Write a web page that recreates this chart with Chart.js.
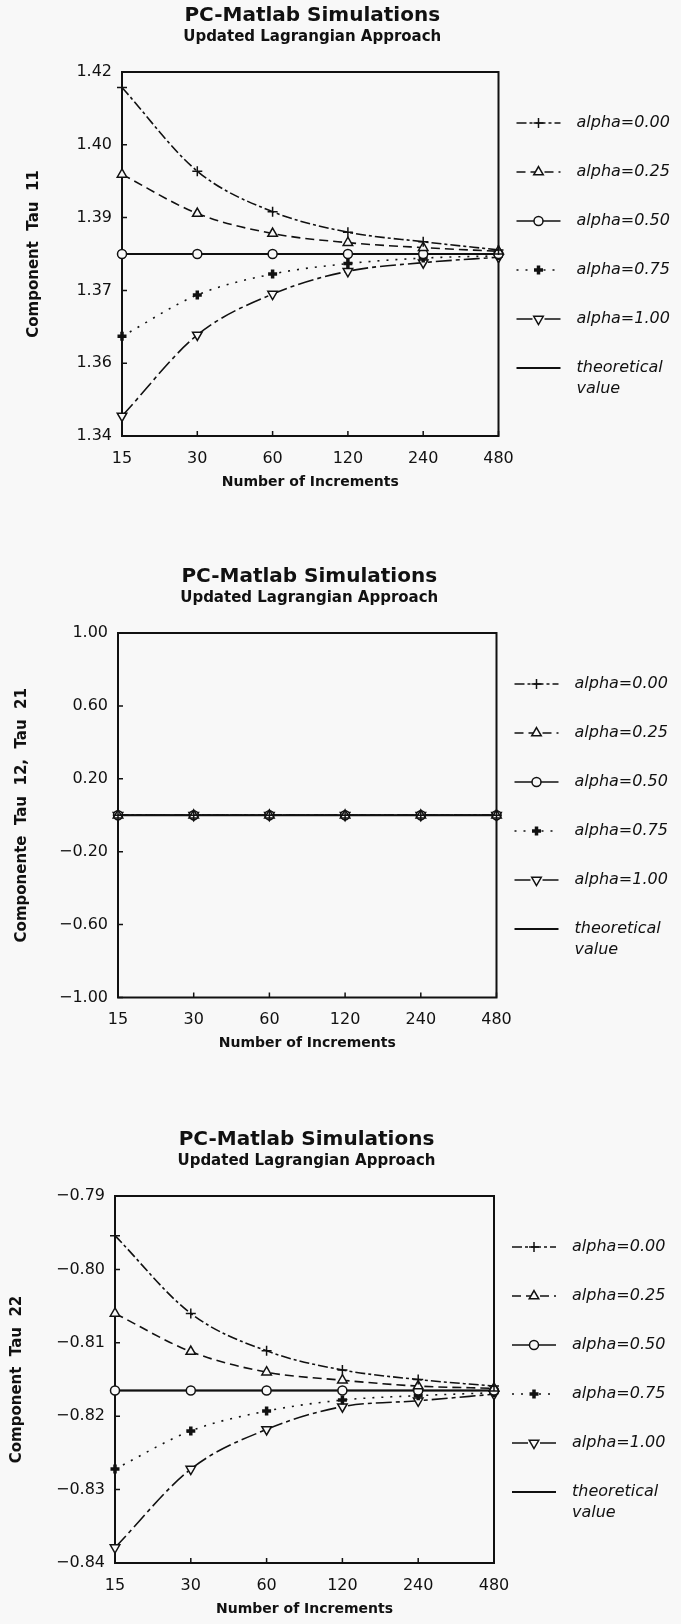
<!DOCTYPE html>
<html>
<head>
<meta charset="utf-8">
<script src="https://cdn.jsdelivr.net/npm/chart.js@4.4.0/dist/chart.umd.min.js"></script>
<style>
  html, body { margin: 0; padding: 0; background: #f8f8f8; }
  .panel { position: absolute; left: 0; }
  canvas { display: block; }
</style>
</head>
<body>
<div class="panel" style="top:0px"><canvas id="tau11" width="681" height="500"></canvas></div>
<div class="panel" style="top:500px"><canvas id="tau12" width="681" height="560"></canvas></div>
<div class="panel" style="top:1060px"><canvas id="tau22" width="681" height="564"></canvas></div>
<script>
// x categories (number of increments, plotted on equal spacing)
const increments = ['15', '30', '60', '120', '240', '480'];
const seriesNames = ['alpha=0.00', 'alpha=0.25', 'alpha=0.50', 'alpha=0.75', 'alpha=1.00'];
const theoryName = ['theoretical', 'value'];

// Component Tau 11
const tau11Alpha000 = [1.4166, 1.3982, 1.3893, 1.3848, 1.3827, 1.3809];
const tau11Alpha025 = [1.3975, 1.3889, 1.3845, 1.3825, 1.3814, 1.3806];
const tau11Alpha050 = [1.3800, 1.3800, 1.3800, 1.3800, 1.3800, 1.3800];
const tau11Alpha075 = [1.3619, 1.3710, 1.3756, 1.3779, 1.3791, 1.3796];
const tau11Alpha100 = [1.3444, 1.3622, 1.3712, 1.3762, 1.3781, 1.3793];
const tau11Theory = 1.38;
const tau11Ticks = [1.34, 1.356, 1.372, 1.388, 1.404, 1.42];
const tau11TickLabels = ['1.34', '1.36', '1.37', '1.39', '1.40', '1.42'];

// Components Tau 12, Tau 21
const tau12Alpha000 = [0, 0, 0, 0, 0, 0];
const tau12Alpha025 = [0, 0, 0, 0, 0, 0];
const tau12Alpha050 = [0, 0, 0, 0, 0, 0];
const tau12Alpha075 = [0, 0, 0, 0, 0, 0];
const tau12Alpha100 = [0, 0, 0, 0, 0, 0];
const tau12Theory = 0;
const tau12Ticks = [-1, -0.6, -0.2, 0.2, 0.6, 1];
const tau12TickLabels = ['\u22121.00', '\u22120.60', '\u22120.20', '0.20', '0.60', '1.00'];

// Component Tau 22
const tau22Alpha000 = [-0.7954, -0.8060, -0.8111, -0.8137, -0.8150, -0.8159];
const tau22Alpha025 = [-0.8060, -0.8112, -0.8140, -0.8151, -0.8159, -0.8162];
const tau22Alpha050 = [-0.8165, -0.8165, -0.8165, -0.8165, -0.8165, -0.8165];
const tau22Alpha075 = [-0.8272, -0.8220, -0.8193, -0.8178, -0.8172, -0.8168];
const tau22Alpha100 = [-0.8379, -0.8272, -0.8218, -0.8187, -0.8179, -0.8170];
const tau22Theory = -0.8165;
const tau22Ticks = [-0.84, -0.83, -0.82, -0.81, -0.80, -0.79];
const tau22TickLabels = ['\u22120.84', '\u22120.83', '\u22120.82', '\u22120.81', '\u22120.80', '\u22120.79'];

const INK = '#111';
const BG = '#f8f8f8';
const FONT = 'DejaVu Sans';

const lineStyles = [
  { borderDash: [10, 3, 3, 3], pointStyle: 'cross', pointRadius: 5, pointBorderWidth: 1.5, pointRotation: 0 },
  { borderDash: [9, 5], pointStyle: 'triangle', pointRadius: 5.5, pointBorderWidth: 1.5, pointRotation: 0 },
  { borderDash: [], pointStyle: 'circle', pointRadius: 4.5, pointBorderWidth: 1.5, pointRotation: 0 },
  { borderDash: [2, 7], pointStyle: 'cross', pointRadius: 4.5, pointBorderWidth: 3.5, pointRotation: 0 },
  { borderDash: [16, 4, 4, 4], pointStyle: 'triangle', pointRadius: 5.5, pointBorderWidth: 1.5, pointRotation: 180 }
];

function buildDatasets(series, theory) {
  const sets = series.map((values, i) => ({
    label: seriesNames[i],
    data: values,
    borderColor: INK,
    borderWidth: 1.6,
    borderDash: lineStyles[i].borderDash,
    pointStyle: lineStyles[i].pointStyle,
    pointRadius: lineStyles[i].pointRadius,
    pointBorderWidth: lineStyles[i].pointBorderWidth,
    pointRotation: lineStyles[i].pointRotation,
    pointBorderColor: INK,
    pointBackgroundColor: BG,
    cubicInterpolationMode: 'monotone',
    fill: false
  }));
  sets.push({
    label: theoryName.join(' '),
    legendLines: theoryName,
    data: increments.map(() => theory),
    borderColor: INK,
    borderWidth: 2,
    borderDash: [],
    pointRadius: 0,
    fill: false
  });
  return sets;
}

// titles above the box
const headings = {
  id: 'headings',
  afterDraw(chart) {
    const { ctx, chartArea: a } = chart;
    const cx = (a.left + a.right) / 2 + 2;
    ctx.save();
    ctx.fillStyle = INK;
    ctx.textAlign = 'center';
    ctx.textBaseline = 'middle';
    ctx.font = 'bold 20px "' + FONT + '"';
    ctx.fillText('PC-Matlab Simulations', cx, a.top - 56);
    ctx.font = 'bold 15px "' + FONT + '"';
    ctx.fillText('Updated Lagrangian Approach', cx, a.top - 35);
    ctx.restore();
  }
};

// closed box with inward tick marks
const frame = {
  id: 'frame',
  beforeDatasetsDraw(chart) {
    const { ctx, chartArea: a, scales } = chart;
    ctx.save();
    ctx.strokeStyle = INK;
    ctx.lineWidth = 2;
    ctx.strokeRect(a.left, a.top, a.width, a.height);
    ctx.lineWidth = 1.5;
    ctx.beginPath();
    scales.x.ticks.forEach((t, i) => {
      const px = scales.x.getPixelForTick(i);
      ctx.moveTo(px, a.bottom);
      ctx.lineTo(px, a.bottom - 5);
    });
    scales.y.ticks.forEach((t, i) => {
      const py = scales.y.getPixelForTick(i);
      ctx.moveTo(a.left, py);
      ctx.lineTo(a.left + 5, py);
    });
    ctx.stroke();
    ctx.restore();
  }
};

// legend on the right: line sample, marker, italic label
const sideLegend = {
  id: 'sideLegend',
  afterDraw(chart) {
    const { ctx, chartArea: a } = chart;
    const x0 = a.right + 18;
    const len = 44;
    chart.data.datasets.forEach((ds, i) => {
      const y = a.top + 51 + i * 49;
      ctx.save();
      ctx.strokeStyle = INK;
      ctx.lineWidth = ds.borderWidth;
      ctx.setLineDash(ds.borderDash || []);
      ctx.beginPath();
      ctx.moveTo(x0, y);
      ctx.lineTo(x0 + len, y);
      ctx.stroke();
      ctx.setLineDash([]);
      if (ds.pointRadius > 0) {
        ctx.fillStyle = BG;
        ctx.lineWidth = ds.pointBorderWidth;
        Chart.helpers.drawPoint(ctx, {
          pointStyle: ds.pointStyle,
          rotation: ds.pointRotation,
          radius: ds.pointRadius,
          borderWidth: ds.pointBorderWidth
        }, x0 + len / 2, y);
      }
      ctx.fillStyle = INK;
      ctx.font = 'italic 16px "' + FONT + '"';
      ctx.textAlign = 'left';
      ctx.textBaseline = 'middle';
      const lines = ds.legendLines || [ds.label];
      lines.forEach((txt, k) => ctx.fillText(txt, a.right + 78, y + k * 21));
      ctx.restore();
    });
  }
};

function makeChart(id, series, theory, tickValues, tickLabels, yTitle, box) {
  const ctx = document.getElementById(id).getContext('2d');
  return new Chart(ctx, {
    type: 'line',
    data: { labels: increments, datasets: buildDatasets(series, theory) },
    options: {
      responsive: false,
      animation: false,
      layout: { padding: { top: box.top, right: box.right, bottom: 0, left: 0 } },
      plugins: { legend: { display: false }, tooltip: { enabled: false } },
      scales: {
        x: {
          type: 'category',
          offset: false,
          grid: { display: false, drawTicks: false },
          border: { display: false },
          ticks: { color: INK, padding: 13, maxRotation: 0, autoSkip: false, font: { family: FONT, size: 16 } },
          title: {
            display: true, text: 'Number of Increments', color: INK,
            font: { family: FONT, size: 14, weight: 'bold' },
            padding: { top: 0, bottom: box.xTitlePad }
          },
          afterFit: (scale) => { scale.height = box.xHeight; }
        },
        y: {
          min: tickValues[0],
          max: tickValues[tickValues.length - 1],
          afterBuildTicks: (scale) => { scale.ticks = tickValues.map(v => ({ value: v })); },
          grid: { display: false, drawTicks: false },
          border: { display: false },
          ticks: { color: INK, padding: 10, font: { family: FONT, size: 16 }, callback: (v, i) => tickLabels[i] },
          title: {
            display: true, text: yTitle, color: INK,
            font: { family: FONT, size: 15, weight: 'bold' },
            padding: { top: box.yTitlePad, bottom: 0 }
          },
          afterFit: (scale) => { scale.width = box.left; }
        }
      }
    },
    plugins: [frame, headings, sideLegend]
  });
}

makeChart('tau11',
  [tau11Alpha000, tau11Alpha025, tau11Alpha050, tau11Alpha075, tau11Alpha100],
  tau11Theory, tau11Ticks, tau11TickLabels, 'Component  Tau  11',
  { top: 72, right: 182.5, left: 122, xHeight: 64, xTitlePad: 9.6, yTitlePad: 25 });

makeChart('tau12',
  [tau12Alpha000, tau12Alpha025, tau12Alpha050, tau12Alpha075, tau12Alpha100],
  tau12Theory, tau12Ticks, tau12TickLabels, 'Componente  Tau  12,  Tau  21',
  { top: 133, right: 184.5, left: 118, xHeight: 62.5, xTitlePad: 8.1, yTitlePad: 13 });

makeChart('tau22',
  [tau22Alpha000, tau22Alpha025, tau22Alpha050, tau22Alpha075, tau22Alpha100],
  tau22Theory, tau22Ticks, tau22TickLabels, 'Component  Tau  22',
  { top: 136, right: 187, left: 115, xHeight: 61, xTitlePad: 6.6, yTitlePad: 8.5 });
</script>
</body>
</html>
